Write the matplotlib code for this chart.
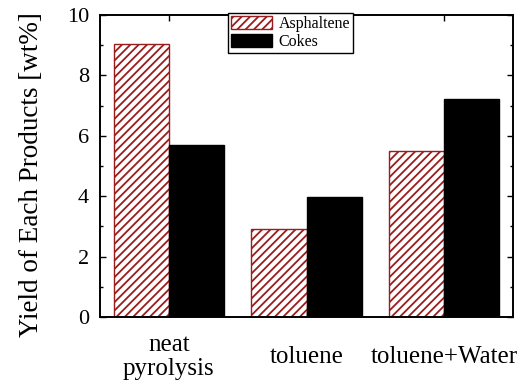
import numpy as np
import matplotlib
matplotlib.use("Agg")
import matplotlib.pyplot as plt
from matplotlib.ticker import MultipleLocator

categories = ["neat\npyrolysis", "toluene", "toluene+Water"]
asphaltene = [9.05, 2.91, 5.51]
cokes = [5.70, 3.96, 7.22]

plt.rcParams['font.family'] = ['Liberation Serif', 'DejaVu Serif']
plt.rcParams['hatch.linewidth'] = 1.3

fig = plt.figure(figsize=(5.3, 3.86), dpi=100)
ax = fig.add_axes([0.1887, 0.179, 0.7793, 0.782])

x = np.arange(len(categories))
w = 0.4
ax.bar(x - w/2, asphaltene, w, color='white', edgecolor='#9b1c1c',
       hatch='////', linewidth=1.0, label='Asphaltene')
ax.bar(x + w/2, cokes, w, color='black', edgecolor='black', linewidth=1.0,
       label='Cokes')

ax.set_xlim(-0.5, 2.5)
ax.set_ylim(0, 10)
ax.set_xticks(x)
ax.set_xticklabels(categories, fontsize=18, va='center', linespacing=1.15)
ax.yaxis.set_major_locator(MultipleLocator(2))
ax.yaxis.set_minor_locator(MultipleLocator(1))
ax.tick_params(axis='y', which='major', labelsize=16, direction='in',
               length=4, width=1, right=True, pad=8)
ax.tick_params(axis='y', which='minor', direction='in', length=2.5,
               width=1, right=True)
ax.tick_params(axis='x', direction='in', length=4, width=1, top=True, pad=29)
for s in ax.spines.values():
    s.set_linewidth(1.4)

ax.set_ylabel("Yield of Each Products [wt%]", fontsize=19.5)
ax.yaxis.set_label_coords(-0.136, 0.47)

leg = ax.legend(loc='upper center', bbox_to_anchor=(0.461, 1.007),
                borderaxespad=0, fancybox=False, edgecolor='black',
                framealpha=1, fontsize=11.5, handlelength=2.6,
                handleheight=0.9, labelspacing=0.1, borderpad=0.2,
                handletextpad=0.4)
leg.get_frame().set_linewidth(1.0)

fig.savefig("out.png", dpi=100)
